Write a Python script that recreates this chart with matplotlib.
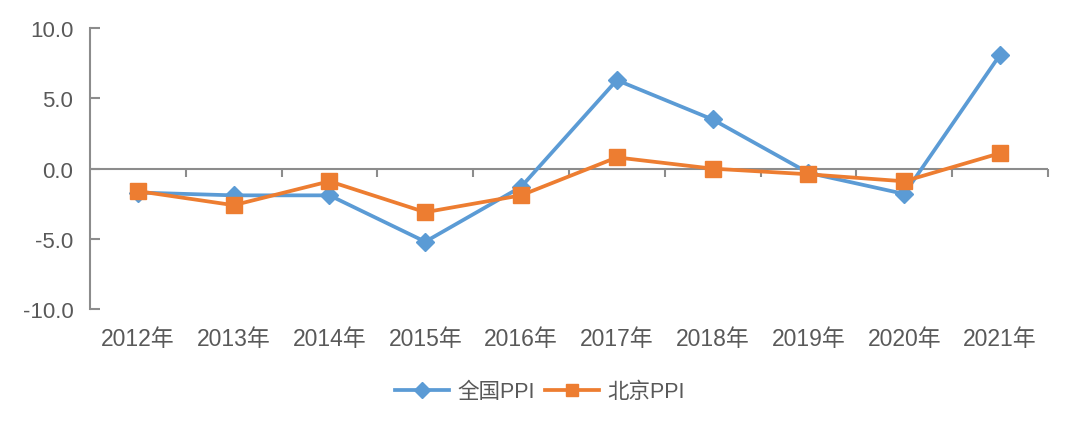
import matplotlib
matplotlib.use('Agg')
import matplotlib.pyplot as plt
import numpy as np

plt.rcParams['font.family'] = ['Liberation Sans', 'Noto Sans CJK SC', 'DejaVu Sans']

years = ['2012年', '2013年', '2014年', '2015年', '2016年',
         '2017年', '2018年', '2019年', '2020年', '2021年']
national_ppi = [-1.7, -1.9, -1.9, -5.2, -1.3, 6.3, 3.5, -0.3, -1.8, 8.1]
beijing_ppi = [-1.6, -2.6, -0.9, -3.1, -1.9, 0.8, 0.0, -0.4, -0.9, 1.1]

blue = '#5B9BD5'
orange = '#ED7D31'
axis_gray = '#8C8C8C'
text_gray = '#595959'

fig = plt.figure(figsize=(10.8, 4.35), dpi=100)
ax = fig.add_axes([0.0833, 0.287, 0.887, 0.646])

x = np.arange(len(years))
ax.plot(x, national_ppi, color=blue, lw=2.7, marker='D', markersize=9,
        label='全国PPI', zorder=3)
ax.plot(x, beijing_ppi, color=orange, lw=2.7, marker='s', markersize=11,
        label='北京PPI', zorder=4)

ax.set_xlim(-0.5, len(years) - 0.5)
ax.set_ylim(-10, 10)
ax.set_yticks([-10, -5, 0, 5, 10])
ax.set_yticklabels([f'{v:.1f}' for v in [-10, -5, 0, 5, 10]])

for s in ['top', 'right', 'bottom']:
    ax.spines[s].set_visible(False)
ax.spines['left'].set_color(axis_gray)
ax.spines['left'].set_linewidth(1.5)

ax.tick_params(axis='y', direction='in', length=7, width=1.5, color=axis_gray,
               labelcolor=text_gray, labelsize=16, pad=12)
ax.set_xticks(x)
ax.set_xticklabels(years)
ax.tick_params(axis='x', length=0, labelcolor=text_gray, labelsize=16.5, pad=13)

# horizontal axis line at zero with category boundary ticks
ax.axhline(0, color=axis_gray, lw=1.5, zorder=1)
sec = ax.secondary_xaxis(0.5)
sec.set_xticks(np.arange(0.5, len(years), 1))
sec.tick_params(direction='in', length=6, width=1.5, color=axis_gray,
                labelbottom=False, labeltop=False)
sec.spines['bottom'].set_visible(False)
sec.spines['top'].set_visible(False)

fig.legend(loc='center', bbox_to_anchor=(0.5, 0.097), ncol=2, frameon=False,
           handlelength=2.5, columnspacing=0.5, handletextpad=0.4,
           fontsize=15.5, labelcolor=text_gray, markerscale=0.85)

fig.savefig('out.png', dpi=100)
